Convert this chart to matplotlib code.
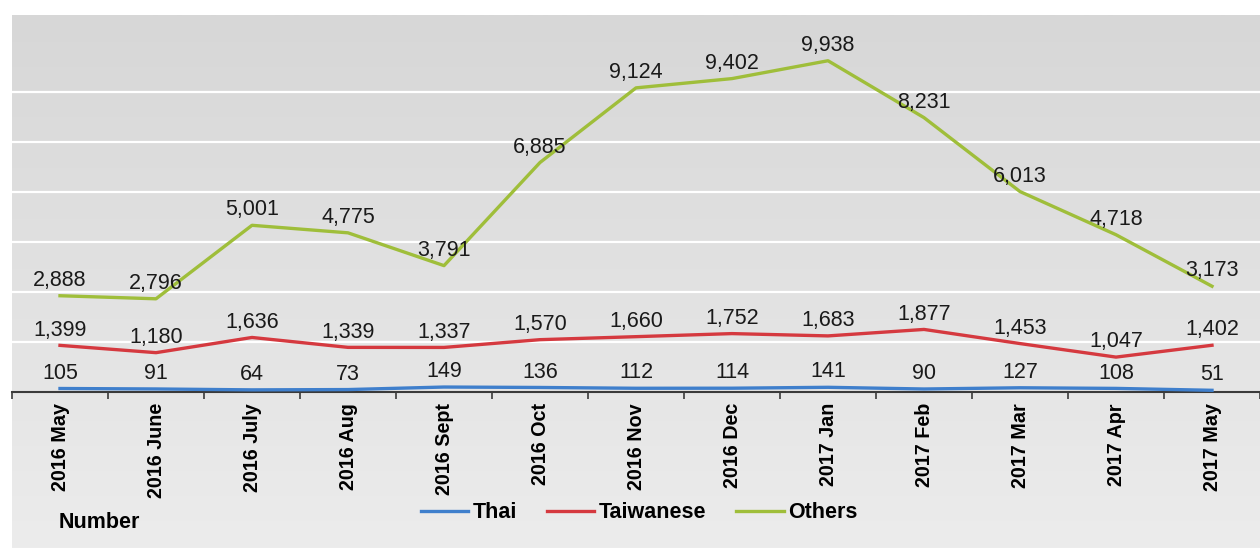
import numpy as np
import matplotlib
matplotlib.use("Agg")
import matplotlib.pyplot as plt
from matplotlib.colors import LinearSegmentedColormap

months = ["2016 May", "2016 June", "2016 July", "2016 Aug", "2016 Sept", "2016 Oct",
          "2016 Nov", "2016 Dec", "2017 Jan", "2017 Feb", "2017 Mar", "2017 Apr", "2017 May"]
thai = [105, 91, 64, 73, 149, 136, 112, 114, 141, 90, 127, 108, 51]
taiwanese = [1399, 1180, 1636, 1339, 1337, 1570, 1660, 1752, 1683, 1877, 1453, 1047, 1402]
others = [2888, 2796, 5001, 4775, 3791, 6885, 9124, 9402, 9938, 8231, 6013, 4718, 3173]

series = [("Thai", thai, "#3f7fcc"), ("Taiwanese", taiwanese, "#d5393f"), ("Others", others, "#9fbe3a")]

plt.rcParams['font.family'] = ['Liberation Sans', 'DejaVu Sans']

W, H = 1260, 548
fig = plt.figure(figsize=(W / 100, H / 100), dpi=100)
fig.patch.set_facecolor("white")

# gray panel with soft vertical gradient
bg = fig.add_axes([12 / W, 0, 1 - 12 / W, (H - 15) / H])
bg.set_axis_off()
cmap = LinearSegmentedColormap.from_list("g", ["#ececec", "#d7d7d7"])
grad = np.linspace(0, 1, 256).reshape(-1, 1)
bg.imshow(grad, aspect="auto", cmap=cmap, origin="lower", extent=[0, 1, 0, 1])
bg.set_xlim(0, 1)
bg.set_ylim(0, 1)

ax = fig.add_axes([12 / W, (H - 392) / H, 1 - 12 / W, (392 - 15) / H])
ax.patch.set_alpha(0)
x = np.arange(len(months))
ax.set_xlim(-0.5, 12.39)
ax.set_ylim(0, 11310)

ax.set_yticks(np.arange(1500, 9001, 1500))
ax.set_yticklabels([])
ax.tick_params(axis="y", length=0)
ax.grid(axis="y", color="white", lw=1.6)
ax.set_axisbelow(True)
for s in ["top", "right", "left"]:
    ax.spines[s].set_visible(False)
ax.spines["bottom"].set_color("#3a3a3a")
ax.spines["bottom"].set_linewidth(1.5)

ax.set_xticks(x)
ax.set_xticklabels(months, rotation=90, fontsize=14.2, fontweight="bold", va="top")
ax.tick_params(axis="x", which="major", length=0, pad=8)
ax.set_xticks(np.arange(-0.5, 13, 1), minor=True)
ax.tick_params(axis="x", which="minor", length=5, width=1.2, color="#3a3a3a", direction="out")

handles = []
for name, vals, col in series:
    h, = ax.plot(x, vals, color=col, lw=2.4, label=name, zorder=3, solid_joinstyle="round")
    handles.append(h)
    for xi, v in zip(x, vals):
        ax.annotate(f"{v:,}", (xi, v), xytext=(0, 3.5), textcoords="offset points",
                    ha="center", va="bottom", fontsize=15.5, color="#1a1a1a", zorder=4)

fig.legend(handles=handles, loc="center", bbox_to_anchor=(639 / W, 1 - 513 / H), ncol=3,
           frameon=False, prop={"weight": "bold", "size": 15.5}, handlelength=2.2,
           handletextpad=0.2, columnspacing=1.4)

fig.text(59 / W, 1 - 522 / H, "Number", fontsize=15.5, fontweight="bold", va="center", ha="left")

fig.savefig("out.png", dpi=100)
